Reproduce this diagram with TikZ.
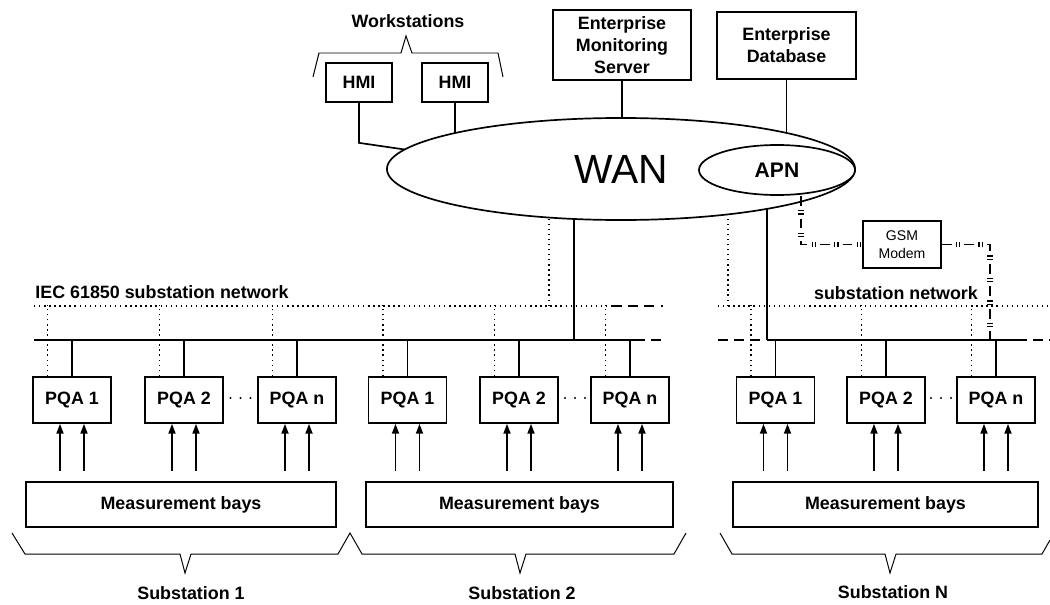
\documentclass[tikz,border=0pt]{standalone}
\usepackage{fontspec}
\setmainfont{Liberation Sans}
\usetikzlibrary{arrows.meta,shapes.geometric}
\pgfdeclarelayer{background}
\pgfsetlayers{background,main}

\begin{document}
\begin{tikzpicture}[
    x=0.025cm, y=-0.025cm,
    every node/.style={
        font=\bfseries\fontsize{12.7}{15.5}\selectfont,
    },
    box/.style={
        draw,
        line width=1.2pt,
        fill=white,
        inner sep=0pt,
        align=center,
    },
    pqa/.style={box, minimum width=1.95cm, minimum height=1.15cm},
    bays/.style={box, minimum height=1.125cm},
    netcloud/.style={ellipse, draw, line width=1.2pt, fill=white, inner sep=0pt},
    wire/.style={line width=1.2pt},
    netdots/.style={line width=1.1pt, dash pattern=on 1pt off 2.6pt},
    stub/.style={line width=1.2pt, dash pattern=on 7pt off 4.5pt},
    gsmlink/.style={
        preaction={draw, line width=1.2pt, dash pattern=on 7pt off 9pt},
        line width=4pt,
        dash pattern=on 0pt off 10pt on 0.9pt off 1.4pt on 0.9pt off 2.8pt,
    },
    brace/.style={line width=0.7pt},
    meas/.style={line width=1.2pt, -{Triangle[length=7pt,width=5pt]}},
]
    \useasboundingbox (0,0) rectangle (1050,604);

    % top: workstations, enterprise, WAN
    \node[box, minimum width=1.65cm, minimum height=0.975cm] (hmi1) at (359,82.5) {HMI};
    \node[box, minimum width=1.65cm, minimum height=0.975cm] (hmi2) at (455,82.5) {HMI};
    \node (work) at (408,21) {Workstations};
    \node[box, minimum width=3.45cm, minimum height=1.75cm] (ems) at (622,45) {Enterprise\\Monitoring\\Server};
    \node[box, minimum width=3.475cm, minimum height=1.675cm] (db) at (786.5,45.5) {Enterprise\\Database};
    \node[netcloud, minimum width=11.7cm, minimum height=2.55cm, font=\fontsize{29}{34}\selectfont] (wan) at (621,169) {WAN};
    \node[netcloud, minimum width=3.9cm, minimum height=1.25cm, font=\bfseries\fontsize{15}{18}\selectfont] (apn) at (777,170) {APN};
    \node[box, minimum width=1.95cm, minimum height=1.175cm, font=\fontsize{10}{12.8}\selectfont] (modem) at (902,244.5) {GSM\\Modem};

    \draw[brace] (313,77) -- (319,53) -- (401,53) -- (406,36) -- (412,53) -- (498,53) -- (503,77);

    \coordinate (bus) at (0,340);
    \coordinate (busL) at (34,340);
    \coordinate (busLe) at (635,340);
    \coordinate (busLend) at (663,340);
    \coordinate (busLup) at (574,340);
    \coordinate (busR) at (718,340);
    \coordinate (busRup) at (767,340);
    \coordinate (busRe) at (1017,340);
    \coordinate (busRend) at (1050,340);
    \coordinate (busRgsm) at (990,340);
    \coordinate (lanL) at (34,306);
    \coordinate (lanLe) at (612,306);
    \coordinate (lanLend) at (663,306);
    \coordinate (lanLup) at (549,306);
    \coordinate (lanR) at (718,306);
    \coordinate (lanRend) at (1048,306);
    \coordinate (lanRup) at (728,306);
    \coordinate (gsmup) at (801,196);

    \begin{pgfonlayer}{background}
        \draw[wire] (hmi1.south) -- ++(0,40) -- ++(96,14);
        \draw[wire] (hmi2.south) -- (hmi2.south |- wan.center);
        \draw[wire] (ems.south) -- (ems.south |- wan.center);
        \draw[wire] (db.south) -- (db.south |- wan.center);
        \draw[wire] (busLup) -- (busLup |- wan.center);
        \draw[netdots] (lanLup) -- (lanLup |- wan.center);
        \draw[wire] (busRup) -- (busRup |- wan.center);
        \draw[netdots] (lanRup) -- (lanRup |- wan.center);
    \end{pgfonlayer}

    \draw[gsmlink] (gsmup) |- (modem.west);
    \draw[gsmlink] (modem.east) -| (busRgsm);

    % substation networks
    \node (iec) at (162,292) {IEC 61850 substation network};
    \node (subnet) at (896,293) {substation network};
    \draw[wire] (busL) -- (busLe);
    \draw[stub] (busLe) -- (busLend);
    \draw[stub] (busR) -- (busRup);
    \draw[wire] (busRup) -- (busRe);
    \draw[stub] (busRe) -- (busRend);
    \draw[netdots] (lanL) -- (lanLe);
    \draw[stub] (lanLe) -- (lanLend);
    \draw[netdots] (lanR) -- (lanRend);

    \foreach \s/\xa/\xb/\xc/\xd/\bx/\bw in {1/72/184/297/240.5/181/7.75,2/407.5/519/630/575/519.5/7.675,N/775.5/886/996/941/885.5/7.625} {
        \node[bays, minimum width=\bw cm] (bays-\s) at (\bx,504.5) {Measurement bays};
        \foreach \k/\cx in {1/\xa,2/\xb,n/\xc} {
            \node[pqa] (pqa-\s-\k) at (\cx,400) {PQA \k};
            \draw[wire] (pqa-\s-\k.north) -- (pqa-\s-\k.north |- bus);
            \draw[netdots] ([xshift=-0.6125cm]pqa-\s-\k.north) -- ++(0,-71);
            \draw[meas] ([xshift=-0.3cm,yshift=-1.175cm]pqa-\s-\k.south) -- ([xshift=-0.3cm]pqa-\s-\k.south);
            \draw[meas] ([xshift=0.3cm,yshift=-1.175cm]pqa-\s-\k.south) -- ([xshift=0.3cm]pqa-\s-\k.south);
        }
        \foreach \d in {-10,0,10}
            \fill (\xd+\d,398) circle (0.85pt);
    }

    \draw[brace] (12,533) -- (25,554) -- (180,554) -- (185,573) -- (191,554) -- (338,554) -- (350,533)
        -- (362,554) -- (515,554) -- (520,573) -- (526,554) -- (674,554) -- (686,533);
    \draw[brace] (720,533) -- (732,554) -- (885,554) -- (890,573) -- (896,554) -- (1042,554) -- (1050,540);
    \node (sub-1) at (191,593) {Substation 1};
    \node (sub-2) at (522,593) {Substation 2};
    \node (sub-N) at (893,592) {Substation N};
\end{tikzpicture}
\end{document}
